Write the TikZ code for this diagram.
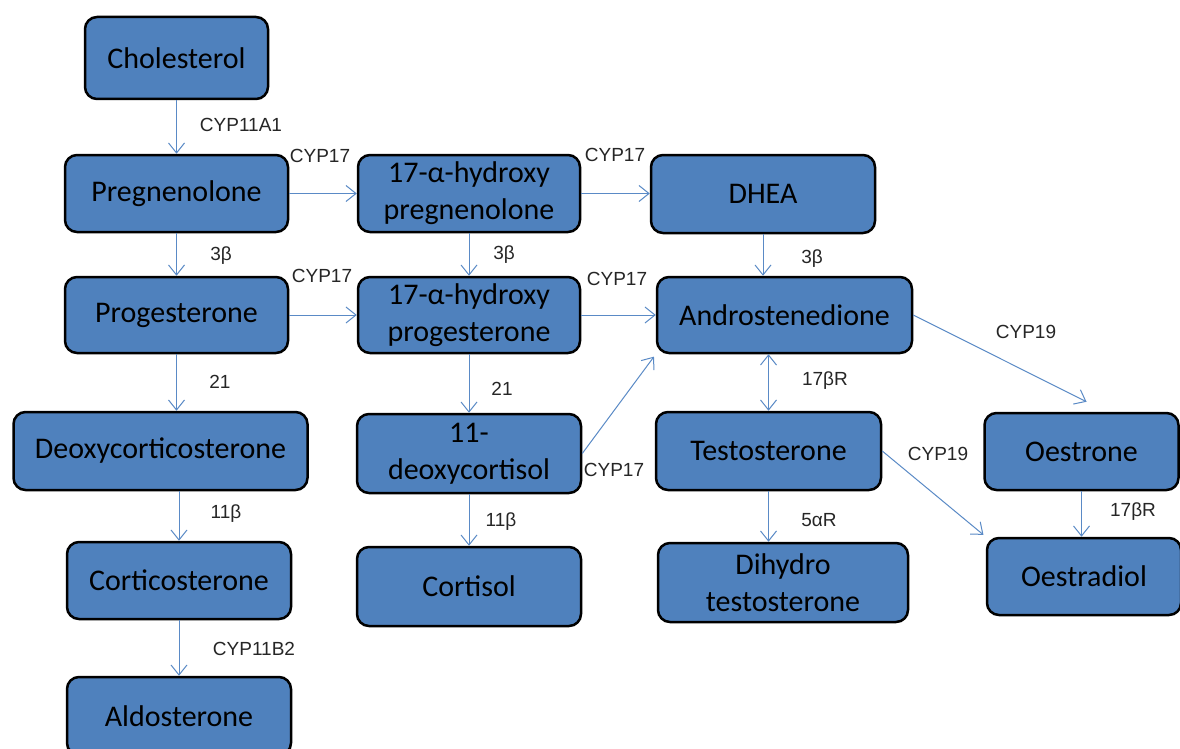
\documentclass[tikz,border=0pt]{standalone}
\usepackage{fontspec}
\setmainfont{Carlito}
\newfontfamily\enzfont{Liberation Sans}
\usepackage{tikz}
\usetikzlibrary{arrows.meta,positioning,calc}
\definecolor{cbox}{HTML}{4F81BD}
\definecolor{carrow}{HTML}{5A8AC6}
\definecolor{clbl}{HTML}{262626}
\tikzset{
  box/.style={draw=black, line width=2.5pt, rounded corners=12pt, fill=cbox, align=center, inner sep=2pt, minimum width=223pt, minimum height=77pt, font=\fontsize{30}{37}\selectfont},
  pre/.style={-{Straight Barb[length=10pt,width=16pt]}, draw=carrow, line width=1pt},
  twoway/.style={pre, {Straight Barb[length=10pt,width=16pt]}-{Straight Barb[length=10pt,width=16pt]}},
  lbl/.style={font=\enzfont\fontsize{19}{22}\selectfont, text=clbl, inner sep=0pt},
}

\begin{document}
\begin{tikzpicture}[x=1pt,y=-1pt]
\useasboundingbox (0,0) rectangle (1180,749);
\clip (0,0) rectangle (1180,749);
\fill[white] (0,0) rectangle (1180,749);
% left column
\node[box, minimum width=183pt, minimum height=82pt] (chol) at (176.5,58) {Cholesterol};
\node[box] (preg) at (176.5,193.5) {Pregnenolone};
\node[box, minimum height=76pt] (prog) at (176.5,315) {Progesterone};
\node[box, minimum width=294pt, minimum height=78pt] (doc) at (160.5,451) {Deoxycorticosterone};
\node[box, minimum width=224pt] (cortico) at (179,580.5) {Corticosterone};
\node[box, minimum width=224pt, minimum height=78pt] (aldo) at (179,716) {Aldosterone};
% middle column
\node[box, minimum width=222pt] (ohpreg) at (469,193.5) {17-α-hydroxy\\pregnenolone};
\node[box, minimum width=222pt, minimum height=76pt] (ohprog) at (469,315) {17-α-hydroxy\\progesterone};
\node[box, minimum width=224pt, minimum height=79pt] (deoxy) at (469,453.5) {11-\\deoxycortisol};
\node[box, minimum width=224pt, minimum height=79pt] (cortisol) at (469,586.5) {Cortisol};
% androgens
\node[box, minimum width=224pt, minimum height=78pt] (dhea) at (763,194) {DHEA};
\node[box, minimum width=255pt, minimum height=76pt] (andro) at (784.5,315) {Androstenedione};
\node[box, minimum width=225pt, minimum height=78pt] (testo) at (768.5,451) {Testosterone};
\node[box, minimum width=250pt, minimum height=79pt] (dht) at (783,582.5) {Dihydro\\testosterone};
% oestrogens
\node[box, minimum width=194pt] (oestrone) at (1081.5,451.5) {Oestrone};
\node[box, minimum width=194pt] (oestradiol) at (1084,576.5) {Oestradiol};

\draw[pre] (chol) -- (preg) node[lbl] at (241,125) {CYP11A1};
\draw[pre] (preg) -- (ohpreg) node[lbl] at (320,156) {CYP17};
\draw[pre] (ohpreg.east) -- (ohpreg.east -| dhea.west) node[lbl] at (615,155) {CYP17};
\draw[pre] (preg) -- (prog) node[lbl] at (221,256) {3β};
\draw[pre] (ohpreg) -- (ohprog) node[lbl] at (504,255) {3β};
\draw[pre] (dhea.south) -- (dhea.south |- andro.north) node[lbl] at (812,259) {3β};
\draw[pre] (prog) -- (ohprog) node[lbl] at (322,276) {CYP17};
\draw[pre] (ohprog.east) -- (ohprog.east -| andro.west) node[lbl] at (617,279) {CYP17};
\draw[pre] (prog.south) -- (prog.south |- doc.north) node[lbl] at (220,382) {21};
\draw[pre] (ohprog) -- (deoxy) node[lbl] at (502,389) {21};
\draw[pre, shorten >=3pt] (deoxy.east) -- (andro.south west) node[lbl] at (614,470) {CYP17};
\draw[twoway] (andro.south -| testo.north) -- (testo.north) node[lbl] at (825,381) {17βR};
\draw[pre] (andro.east) -- ([xshift=5pt,yshift=10pt]oestrone.north) node[lbl] at (1026,332) {CYP19};
\draw[pre, shorten >=3pt] (testo.east) -- (oestradiol.north west) node[lbl] at (938,454) {CYP19};
\draw[pre] (testo.south) -- (testo.south |- dht.north) node[lbl] at (819,520) {5αR};
\draw[pre] (oestrone) -- (oestrone |- oestradiol.north) node[lbl] at (1133,512) {17βR};
\draw[pre] (doc.south -| cortico.north) -- (cortico.north) node[lbl] at (226,514) {11β};
\draw[pre] (deoxy) -- (cortisol) node[lbl] at (501,522) {11β};
\draw[pre] (cortico) -- (aldo) node[lbl] at (254,649) {CYP11B2};
\end{tikzpicture}
\end{document}
